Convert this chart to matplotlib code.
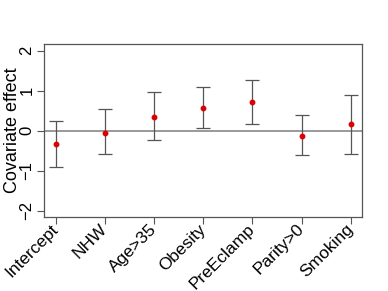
import matplotlib
matplotlib.use("Agg")
import matplotlib.pyplot as plt

plt.rcParams['font.family'] = ['Liberation Sans', 'DejaVu Sans']

covariates = ['Intercept', 'NHW', 'Age>35', 'Obesity', 'PreEclamp', 'Parity>0', 'Smoking']
effect = [-0.33, -0.05, 0.35, 0.57, 0.72, -0.125, 0.17]
lower = [-0.90, -0.59, -0.23, 0.075, 0.16, -0.62, -0.58]
upper = [0.24, 0.54, 0.97, 1.10, 1.26, 0.38, 0.89]

xs = list(range(1, len(covariates) + 1))

fig = plt.figure(figsize=(3.88, 2.91), dpi=100)
ax = fig.add_axes([0.114, 0.254, 0.820, 0.594])

ax.axhline(0, color='#888888', linewidth=1.2, zorder=1)
yerr = [[e - l for e, l in zip(effect, lower)], [u - e for u, e in zip(upper, effect)]]
ax.errorbar(xs, effect, yerr=yerr, fmt='none', ecolor='#555555', elinewidth=0.9,
            capsize=5, capthick=0.9, zorder=2)
ax.plot(xs, effect, 'o', color='#dd0000', markersize=3.2, zorder=3)

ax.set_xlim(0.76, 7.24)
ax.set_ylim(-2.16, 2.16)
ax.set_yticks([-2, -1, 0, 1, 2])
ax.set_yticklabels(['\u22122', '\u22121', '0', '1', '2'], rotation=90, va='center', fontsize=12)
ax.set_xticks(xs)
ax.set_xticklabels(covariates, rotation=45, ha='right', va='center', rotation_mode='anchor',
                   fontsize=12.5)
ax.tick_params(color='#555555', length=5, width=0.8)
ax.tick_params(axis='x', pad=2)
ax.tick_params(axis='y', pad=2)
ax.set_ylabel('Covariate effect', fontsize=13)
ax.yaxis.set_label_coords(-0.073, 0.5)
for s in ax.spines.values():
    s.set_color('#555555')
    s.set_linewidth(0.9)

fig.savefig('out.png', dpi=100)
